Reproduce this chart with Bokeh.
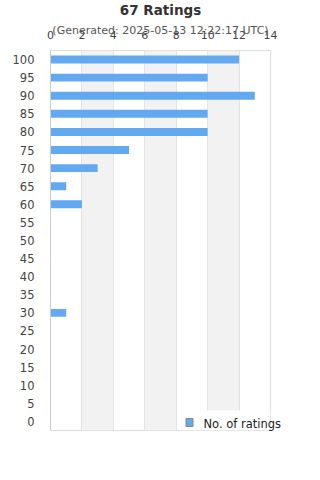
from bokeh.plotting import figure
from bokeh.models import Range1d, FixedTicker, Label, BoxAnnotation
from bokeh.embed import file_html
from bokeh.resources import INLINE

ratings = [100, 95, 90, 85, 80, 75, 70, 65, 60, 55, 50, 45, 40, 35, 30, 25, 20, 15, 10, 5, 0]
counts = [12, 10, 13, 10, 10, 5, 3, 1, 2, 0, 0, 0, 0, 0, 1, 0, 0, 0, 0, 0, 0]
x_ticks = [0, 2, 4, 6, 8, 10, 12, 14]
title_text = "67 Ratings"
subtitle_text = "(Generated: 2025-05-13 12:22:17 UTC)"
series_name = "No. of ratings"

BAR = "#63a9f2"
FONT = "DejaVu Sans"

p = figure(width=320, height=480, output_backend="svg", toolbar_location=None,
           x_range=Range1d(0, 14), y_range=Range1d(-2.5, 102.5),
           x_axis_location="above",
           min_border_left=50, min_border_right=50, min_border_top=50, min_border_bottom=50)
p.outline_line_color = "#dddddd"
p.background_fill_color = "white"
p.border_fill_color = "white"

for a, b in [(2, 4), (6, 8), (10, 12)]:
    p.add_layout(BoxAnnotation(left=a, right=b, fill_color="#f2f2f2", fill_alpha=1,
                               line_alpha=0, level="underlay"))

p.xgrid.ticker = FixedTicker(ticks=x_ticks)
p.xgrid.grid_line_color = "#e0e0e0"
p.ygrid.grid_line_color = None

# legend background box
p.add_layout(BoxAnnotation(left=8.15, right=14, bottom=-2.5, top=3.0, fill_color="white",
                           fill_alpha=1, line_alpha=0, level="underlay"))

r = p.hbar(y=ratings, right=counts, left=0, height=2.2, fill_color=BAR, line_color=None)

xa = p.xaxis[0]
xa.ticker = FixedTicker(ticks=x_ticks)
xa.axis_line_color = None
xa.major_tick_line_color = None
xa.minor_tick_line_color = None
xa.major_label_standoff = 6
xa.major_label_text_font = FONT
xa.major_label_text_font_size = "11px"
xa.major_label_text_color = "#444444"

ya = p.yaxis[0]
ya.ticker = FixedTicker(ticks=ratings)
ya.axis_line_color = "#cccccc"
ya.major_tick_line_color = None
ya.minor_tick_line_color = None
ya.major_label_standoff = 10
ya.major_label_text_font = FONT
ya.major_label_text_font_size = "11.5px"
ya.major_label_text_color = "#444444"

p.add_layout(Label(x=110, y=18, x_units="screen", y_units="screen", text=title_text,
                   text_align="center", text_baseline="middle", text_font=FONT,
                   text_font_size="13.5px", text_font_style="bold", text_color="#333333"), "above")
p.add_layout(Label(x=110, y=413, x_units="screen", y_units="screen", text=subtitle_text,
                   text_align="center", text_baseline="middle", text_font=FONT,
                   text_font_size="11px", text_color="#555555"), "below")
p.add_layout(Label(x=153, y=34, x_units="screen", y_units="screen", text=series_name,
                   text_align="left", text_baseline="middle", text_font=FONT,
                   text_font_size="11.5px", text_color="#222222"), "below")
p.add_layout(Label(x=139, y=43, x_units="screen", y_units="screen", text="\u2003",
                   text_align="center", text_baseline="middle", text_font=FONT,
                   text_font_size="7px", background_fill_color=BAR,
                   border_line_color="#888888", border_line_width=1), "below")

open("out.html", "w").write(file_html(p, INLINE))
